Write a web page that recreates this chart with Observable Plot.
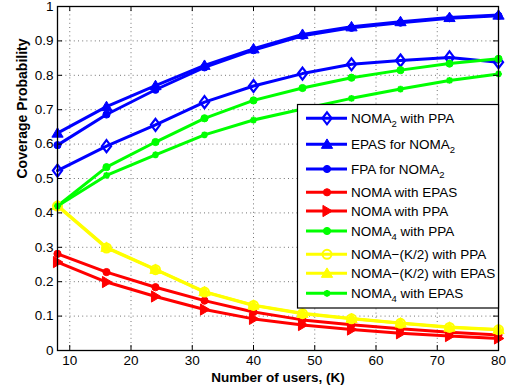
<!DOCTYPE html>
<html><head><meta charset="utf-8">
<script src="https://cdn.jsdelivr.net/npm/d3@7"></script>
<script src="https://cdn.jsdelivr.net/npm/@observablehq/plot@0.6"></script>
<style>
body{margin:0;background:#fff;}
#wrap{position:relative;width:513px;height:389px;}
#wrap svg{position:absolute;left:0;top:0;}
</style></head><body><div id="wrap"></div>
<script>
// ---- data ----
const users = [8, 16, 24, 32, 40, 48, 56, 64, 72, 80];
const noma2PPA   = [0.523, 0.594, 0.656, 0.722, 0.769, 0.805, 0.832, 0.843, 0.852, 0.838];
const epasNoma2  = [0.632, 0.709, 0.770, 0.829, 0.877, 0.919, 0.941, 0.956, 0.968, 0.975];
const fpaNoma2   = [0.597, 0.686, 0.758, 0.823, 0.873, 0.915, 0.938, 0.953, 0.966, 0.973];
const nomaEPAS   = [0.281, 0.228, 0.184, 0.145, 0.112, 0.089, 0.075, 0.063, 0.053, 0.045];
const nomaPPA    = [0.257, 0.199, 0.157, 0.119, 0.092, 0.074, 0.061, 0.050, 0.042, 0.035];
const noma4PPA   = [0.420, 0.533, 0.606, 0.675, 0.727, 0.763, 0.793, 0.815, 0.834, 0.848];
const nomaK2PPA  = [0.420, 0.298, 0.235, 0.170, 0.131, 0.107, 0.092, 0.079, 0.067, 0.060];
const nomaK2EPAS = [0.422, 0.300, 0.236, 0.171, 0.132, 0.108, 0.093, 0.080, 0.068, 0.061];
const noma4EPAS  = [0.420, 0.509, 0.569, 0.627, 0.670, 0.702, 0.733, 0.760, 0.785, 0.804];
const xTicks = [10, 20, 30, 40, 50, 60, 70, 80];
const yTicks = [0, 0.1, 0.2, 0.3, 0.4, 0.5, 0.6, 0.7, 0.8, 0.9, 1];
const seriesNames = [
  ["NOMA", "2", " with PPA"],
  ["EPAS for NOMA", "2", ""],
  ["FPA for NOMA", "2", ""],
  ["NOMA with EPAS", "", ""],
  ["NOMA with PPA", "", ""],
  ["NOMA", "4", " with PPA"],
  ["NOMA\u2212(K/2) with PPA", "", ""],
  ["NOMA\u2212(K/2) with EPAS", "", ""],
  ["NOMA", "4", " with EPAS"]
];

// ---- symbols ----
const rOf = s => Math.sqrt(s / Math.PI);
const symDiamond = {draw(c, s){const r=rOf(s);c.moveTo(0,-1.25*r);c.lineTo(0.95*r,0);c.lineTo(0,1.25*r);c.lineTo(-0.95*r,0);c.closePath();}};
const symTriUp = {draw(c, s){const r=rOf(s);c.moveTo(0,-1.2*r);c.lineTo(1.25*r,0.9*r);c.lineTo(-1.25*r,0.9*r);c.closePath();}};
const symTriRight = {draw(c, s){const r=rOf(s);c.moveTo(1.2*r,0);c.lineTo(-0.9*r,-1.25*r);c.lineTo(-0.9*r,1.25*r);c.closePath();}};
const symCircle = {draw(c, s){const r=rOf(s);c.moveTo(r,0);c.arc(0,0,r,0,2*Math.PI);c.closePath();}};
const symStar = {draw(c, s){const r=rOf(s);const k=r*0.707;c.moveTo(-r,0);c.lineTo(r,0);c.moveTo(0,-r);c.lineTo(0,r);c.moveTo(-k,-k);c.lineTo(k,k);c.moveTo(-k,k);c.lineTo(k,-k);}};

const BLUE="#0000ff", RED="#ff0000", GREEN="#00ff00", YEL="#ffff00";
const styles = [
  {values: noma2PPA,   color: BLUE,  sym: symDiamond,  r: 4.8, filled: false, sw: 2.2},
  {values: epasNoma2,  color: BLUE,  sym: symTriUp,    r: 4.5, filled: true,  sw: 1},
  {values: fpaNoma2,   color: BLUE,  sym: symCircle,   r: 3.6, filled: true,  sw: 1},
  {values: nomaEPAS,   color: RED,   sym: symCircle,   r: 3.6, filled: true,  sw: 1},
  {values: nomaPPA,    color: RED,   sym: symTriRight, r: 4.5, filled: true,  sw: 1},
  {values: noma4PPA,   color: GREEN, sym: symCircle,   r: 3.6, filled: true,  sw: 1},
  {values: nomaK2PPA,  color: YEL,   sym: symCircle,   r: 4.5, filled: false, sw: 2},
  {values: nomaK2EPAS, color: YEL,   sym: symTriUp,    r: 4.5, filled: true,  sw: 1},
  {values: noma4EPAS,  color: GREEN, sym: symStar,     r: 3.4, filled: false, sw: 2}
];

const FONT = "'Liberation Sans', Arial, Helvetica, sans-serif";
const marks = [
  Plot.gridX(xTicks, {stroke: "#000", strokeOpacity: 0.55, strokeDasharray: "1,3.2"}),
  Plot.gridY(yTicks, {stroke: "#000", strokeOpacity: 0.55, strokeDasharray: "1,3.2"})
];
styles.forEach(st => {
  const rows = users.map((u, i) => ({x: u, y: st.values[i]}));
  marks.push(Plot.line(rows, {x: "x", y: "y", stroke: st.color, strokeWidth: 3, strokeLinejoin: "round"}));
  marks.push(Plot.dot(rows, {x: "x", y: "y", symbol: st.sym, r: st.r,
    fill: st.filled ? st.color : "none", stroke: st.color, strokeWidth: st.sw}));
});
marks.push(
  Plot.frame({stroke: "#000", strokeWidth: 1.3}),
  Plot.tickX(xTicks, {x: d => d, insetTop: 339, stroke: "#000", strokeWidth: 1}),
  Plot.tickX(xTicks, {x: d => d, insetBottom: 339, stroke: "#000", strokeWidth: 1}),
  Plot.tickY(yTicks, {y: d => d, insetRight: 436, stroke: "#000", strokeWidth: 1}),
  Plot.tickY(yTicks, {y: d => d, insetLeft: 436, stroke: "#000", strokeWidth: 1}),
  Plot.axisX({ticks: xTicks, tickSize: 0, tickPadding: 5, label: null, fontSize: 13.5}),
  Plot.axisY({ticks: yTicks, tickSize: 0, tickPadding: 4, label: null, fontSize: 13.5,
    tickFormat: d => d === 0 ? "0" : d === 1 ? "1" : d3.format(".1f")(d)}),
  Plot.text(["Number of users, (K)"], {frameAnchor: "bottom", dy: 31, fontWeight: "bold", fontSize: 13.5}),
  Plot.text(["Coverage Probability"], {frameAnchor: "left", dx: -35, rotate: -90, fontWeight: "bold", fontSize: 14})
);

const chart = Plot.plot({
  width: 513, height: 389,
  marginLeft: 57, marginRight: 15, marginTop: 6, marginBottom: 39,
  x: {domain: [8, 80]}, y: {domain: [0, 1]},
  style: {fontFamily: FONT, fontSize: "13.5px", background: "white", color: "black"},
  marks
});
const wrap = document.getElementById("wrap");
wrap.appendChild(chart);

// ---- legend overlay ----
const lg = d3.select(wrap).append("svg").attr("width", 513).attr("height", 389)
  .style("pointer-events", "none").style("font-family", FONT);
lg.append("rect").attr("x", 297.5).attr("y", 104.5).attr("width", 201).attr("height", 203.5)
  .attr("fill", "white").attr("stroke", "#000").attr("stroke-width", 1.2);
const rowY = [118.3, 144.3, 169, 192.3, 211, 231, 254.3, 273.3, 293.3];
styles.forEach((st, i) => {
  const y = rowY[i];
  lg.append("line").attr("x1", 306).attr("x2", 347).attr("y1", y).attr("y2", y)
    .attr("stroke", st.color).attr("stroke-width", 3);
  lg.append("path").attr("transform", `translate(327,${y})`)
    .attr("d", d3.symbol().type(st.sym).size(Math.PI * st.r * st.r)())
    .attr("fill", st.filled ? st.color : "none").attr("stroke", st.color).attr("stroke-width", st.sw);
  const [a, sub, b] = seriesNames[i];
  const t = lg.append("text").attr("x", 351).attr("y", y + 4.6).attr("font-size", 13.5).attr("fill", "#000");
  t.append("tspan").text(a);
  if (sub) {
    t.append("tspan").attr("font-size", 9.5).attr("dy", 4.5).text(sub);
    if (b) t.append("tspan").attr("dy", -4.5).text(b);
  }
});
</script></body></html>
